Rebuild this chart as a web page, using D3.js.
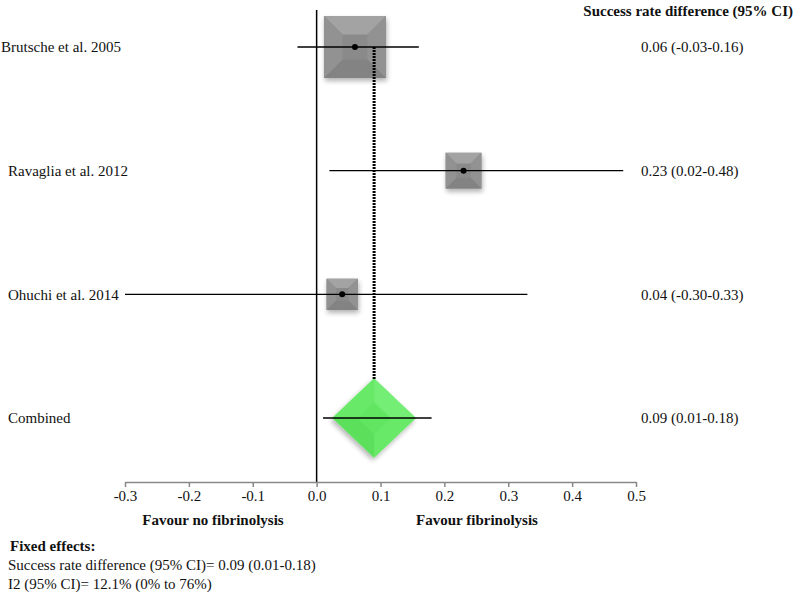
<!DOCTYPE html>
<html lang="en">
  <head>
    <meta charset="utf-8">
    <script src="https://d3js.org/d3.v7.min.js"></script>
    <style>
      body {
        margin: 0;
        background: #fff;
      }
      svg text {
        font-family: 'Liberation Serif', serif;
        fill: #111;
      }
    </style>
  </head>
  <body>
    <svg></svg>
  </body>
  <script>
    // Data
    const studies = ['Brutsche et al. 2005', 'Ravaglia et al. 2012', 'Ohuchi et al. 2014'];
    const estimates = [0.06, 0.23, 0.04];
    const lower = [-0.03, 0.02, -0.30];
    const upper = [0.16, 0.48, 0.33];
    const weights = [63, 21, 16];
    const ciLabels = ['0.06 (-0.03-0.16)', '0.23 (0.02-0.48)', '0.04 (-0.30-0.33)'];
    const pooled = { label: 'Combined', est: 0.09, lo: 0.01, hi: 0.18, text: '0.09 (0.01-0.18)' };
    const tickValues = [-0.3, -0.2, -0.1, 0.0, 0.1, 0.2, 0.3, 0.4, 0.5];

    const width = 797;
    const height = 592;
    const svg = d3.select('svg')
        .attr('width', width)
        .attr('height', height);

    const defs = svg.append('defs');
    const shadow = defs.append('filter').attr('id', 'shadow')
        .attr('x', '-20%').attr('y', '-20%').attr('width', '150%').attr('height', '150%');
    shadow.append('feGaussianBlur').attr('in', 'SourceAlpha').attr('stdDeviation', 2.5).attr('result', 'b');
    shadow.append('feOffset').attr('in', 'b').attr('dx', 1).attr('dy', 3).attr('result', 'o');
    shadow.append('feComponentTransfer').attr('in', 'o').attr('result', 's')
      .append('feFuncA').attr('type', 'linear').attr('slope', 0.3);
    const merge = shadow.append('feMerge');
    merge.append('feMergeNode').attr('in', 's');
    merge.append('feMergeNode').attr('in', 'SourceGraphic');

    // Scales
    const x = d3.scaleLinear().domain([-0.3, 0.5]).range([125, 636]);
    const rows = studies.concat([pooled.label]);
    const y = d3.scalePoint().domain(rows).range([47, 418]);
    const boxSize = d3.scaleSqrt().domain([0, d3.max(weights)]).range([0, 62]);
    const axisY = 482;

    // Bevelled square (pyramid look)
    function bevel(g, cx, cy, s, cols) {
      const h = s / 2, i = s * 0.3;
      const o = [[cx - h, cy - h], [cx + h, cy - h], [cx + h, cy + h], [cx - h, cy + h]];
      const n = [[cx - h + i, cy - h + i], [cx + h - i, cy - h + i], [cx + h - i, cy + h - i], [cx - h + i, cy + h - i]];
      const gg = g.append('g').attr('filter', 'url(#shadow)');
      gg.append('rect').attr('x', cx - h).attr('y', cy - h).attr('width', s).attr('height', s).attr('fill', cols.mid);
      const faces = [[o[0], o[1], n[1], n[0], cols.top], [o[1], o[2], n[2], n[1], cols.side],
                     [o[2], o[3], n[3], n[2], cols.bottom], [o[3], o[0], n[0], n[3], cols.side]];
      faces.forEach(f => {
        gg.append('polygon').attr('points', f.slice(0, 4).map(p => p.join(',')).join(' '))
          .attr('fill', f[4]);
      });
      return gg;
    }

    // Zero line
    svg.append('line')
        .attr('x1', x(0)).attr('x2', x(0))
        .attr('y1', 10).attr('y2', axisY)
        .attr('stroke', '#000').attr('stroke-width', 1.5);

    // Study boxes
    const grayCols = { mid: '#8a8a8a', top: '#a3a3a3', side: '#929292', bottom: '#838383' };
    studies.forEach((s, i) => {
      bevel(svg, x(estimates[i]), y(s), boxSize(weights[i]), grayCols);
    });

    // Pooled diamond
    const dg = svg.append('g')
        .attr('transform', 'translate(' + x(pooled.est) + ',' + y(pooled.label) + ') scale(1,0.95) rotate(45)');
    bevel(dg, 0, 0, 59, { mid: '#62e662', top: '#74ee74', side: '#68e968', bottom: '#5ce05c' });

    // Pooled estimate line
    svg.append('line')
        .attr('x1', x(pooled.est)).attr('x2', x(pooled.est))
        .attr('y1', y(studies[0])).attr('y2', y(pooled.label) - 39)
        .attr('stroke', '#000').attr('stroke-width', 3)
        .attr('stroke-dasharray', '2,1');

    // CI lines
    studies.forEach((s, i) => {
      svg.append('line')
          .attr('x1', x(lower[i])).attr('x2', x(upper[i]))
          .attr('y1', y(s)).attr('y2', y(s))
          .attr('stroke', '#000').attr('stroke-width', 1.4);
      svg.append('circle')
          .attr('cx', x(estimates[i])).attr('cy', y(s))
          .attr('r', 3).attr('fill', '#000');
    });
    svg.append('line')
        .attr('x1', x(pooled.lo)).attr('x2', x(pooled.hi))
        .attr('y1', y(pooled.label)).attr('y2', y(pooled.label))
        .attr('stroke', '#000').attr('stroke-width', 1.4);

    // Row labels
    svg.selectAll('.row-label')
        .data(rows)
      .enter().append('text')
        .attr('class', 'row-label')
        .attr('x', (d, i) => i === 0 ? 1 : 8)
        .attr('y', d => y(d))
        .attr('dy', '0.35em')
        .style('font-size', '15px')
        .text(d => d);

    svg.selectAll('.ci-label')
        .data(ciLabels.concat([pooled.text]))
      .enter().append('text')
        .attr('class', 'ci-label')
        .attr('x', 641)
        .attr('y', (d, i) => y(rows[i]))
        .attr('dy', '0.35em')
        .style('font-size', '15px')
        .text(d => d);

    svg.append('text')
        .attr('x', 793).attr('y', 11)
        .attr('dy', '0.35em')
        .attr('text-anchor', 'end')
        .style('font-size', '15px')
        .style('font-weight', 'bold')
        .text('Success rate difference (95% CI)');

    // Axis
    const fmt = d3.format('.1f');
    const axis = svg.append('g')
        .attr('transform', 'translate(0,' + axisY + ')')
        .call(d3.axisBottom(x).tickValues(tickValues)
          .tickFormat(d => fmt(d).replace('\u2212', '-'))
          .tickSize(5).tickSizeOuter(0));
    axis.select('.domain').attr('stroke', '#888').attr('stroke-width', 1.5);
    axis.selectAll('.tick line').attr('stroke', '#888').attr('stroke-width', 1.5);
    axis.selectAll('.tick text')
        .attr('y', 8)
        .style('font-family', "'Liberation Serif', serif")
        .style('font-size', '15px')
        .attr('fill', '#222');

    svg.append('text')
        .attr('x', 213).attr('y', 520)
        .attr('dy', '0.35em')
        .attr('text-anchor', 'middle')
        .style('font-size', '15px')
        .style('font-weight', 'bold')
        .text('Favour no fibrinolysis');
    svg.append('text')
        .attr('x', 477).attr('y', 520)
        .attr('dy', '0.35em')
        .attr('text-anchor', 'middle')
        .style('font-size', '15px')
        .style('font-weight', 'bold')
        .text('Favour fibrinolysis');

    // Summary notes
    const notes = [
      { t: 'Fixed effects:', b: true },
      { t: 'Success rate difference (95% CI)= 0.09 (0.01-0.18)', b: false },
      { t: 'I2 (95% CI)= 12.1% (0% to 76%)', b: false }
    ];
    svg.selectAll('.note')
        .data(notes)
      .enter().append('text')
        .attr('class', 'note')
        .attr('x', (d, i) => i === 0 ? 10 : 8)
        .attr('y', (d, i) => 546 + i * 19)
        .attr('dy', '0.35em')
        .style('font-size', '15px')
        .style('font-weight', d => d.b ? 'bold' : 'normal')
        .text(d => d.t);
  </script>
</html>
